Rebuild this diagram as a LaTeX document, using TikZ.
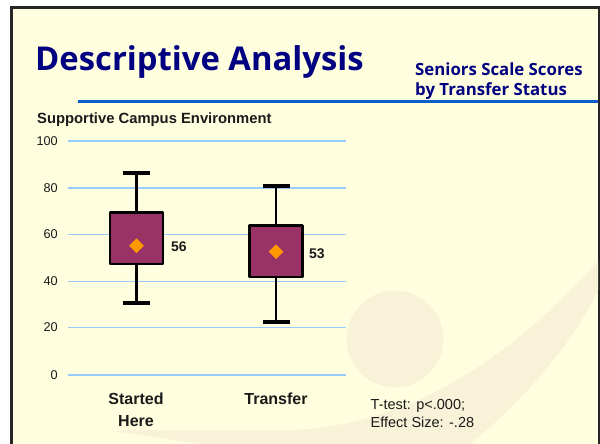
\documentclass[tikz,border=0pt]{standalone}
\usepackage{fontspec}
\setmainfont{Liberation Sans}
\newfontfamily\titlefont{Open Sans}
\definecolor{slidebg}{HTML}{FFFFE0}
\definecolor{swoosh}{HTML}{F8F3D8}
\definecolor{navy}{HTML}{000080}
\definecolor{rulecol}{HTML}{0F5FCB}
\definecolor{gridcol}{HTML}{99CCFF}
\definecolor{boxcol}{HTML}{993366}
\definecolor{markcol}{HTML}{FF9900}
\definecolor{txtcol}{HTML}{1A1A1A}
\tikzset{
  axislabel/.style={anchor=east, font=\fontsize{12.7}{14}\selectfont, text=txtcol, inner sep=0pt},
  catlabel/.style={align=center, font=\bfseries\fontsize{16}{22}\selectfont, text=txtcol, inner sep=0pt},
  vallabel/.style={anchor=west, font=\bfseries\fontsize{14}{16}\selectfont, text=txtcol, inner sep=0pt},
  whisker/.style={line width=2.6pt, black},
  cap line/.style={line width=3.2pt, black},
  iqrbox/.style={draw=black, line width=2.5pt, fill=boxcol, line join=round},
  meanmark/.style={fill=markcol, draw=none},
}
\begin{document}
\begin{tikzpicture}[x=1pt, y=-1pt]
\useasboundingbox (0, 0) rectangle (600, 444);
\fill[white](0, 0) rectangle (600, 444);
\fill[black!85](10, 6.5) rectangle (600, 444);
\fill[slidebg](12.5, 9.5) rectangle (598, 444);
% background swoosh
\fill[swoosh](598, 262) .. controls (530, 335) and (430, 425) .. (290, 430) .. controls (220, 432) and (160, 428) .. (113, 431) -- (200, 444) -- (470, 444) .. controls (525, 400) and (575, 340) .. (598, 290) -- cycle;
\fill[swoosh](395, 339) circle (48.5);
% heading
\node (heading) [anchor=west, inner sep=0pt, text=navy, font=\titlefont\bfseries\fontsize{32.8}{34}\selectfont] at (35, 62){Descriptive Analysis};
\node (subheading) [anchor=north west, inner sep=0pt, align=left, text=navy, font=\titlefont\bfseries\fontsize{16.8}{19.5}\selectfont] at (415, 63){Seniors Scale Scores\\by Transfer Status};
\coordinate (ruleleft) at (78, 101.5);
\coordinate (ruleright) at (598, 101.5);
\draw[rulecol, line width=3pt](ruleleft) -- (ruleright);
\node (charttitle) [anchor=west, inner sep=0pt, text=txtcol, font=\bfseries\fontsize{14.8}{16}\selectfont] at (37, 119.5){Supportive Campus Environment};
% gridlines and axis labels
\foreach \val/\ypos in {100/141, 80/188, 60/234.5, 40/281.5, 20/327.5, 0/375}{
  \coordinate (gridl\val) at (68, \ypos);
  \coordinate (gridr\val) at (346, \ypos);
  \draw[gridcol, line width=1.8pt](gridl\val) -- (gridr\val);
  \node (lab\val) [axislabel] at (58, \ypos){\val};
}
% boxes: x, whisker top, box top, box bottom, whisker bottom, mean, label
\foreach \nm/\xc/\wt/\bt/\bb/\wb/\mn/\lab/\laxis/\laby in {started/136.5/173/212.3/264/303/245.7/56/171/247, transfer/276/186/225.5/277/322/251.7/53/309/254}{
  \coordinate (top\nm) at (\xc, \wt);
  \coordinate (bot\nm) at (\xc, \wb);
  \draw[whisker](top\nm) -- (bot\nm);
  \draw[cap line]([xshift=-13.5pt]top\nm) -- ([xshift=13.5pt]top\nm);
  \draw[cap line]([xshift=-13.5pt]bot\nm) -- ([xshift=13.5pt]bot\nm);
  \draw[iqrbox](\xc-26.5, \bt) rectangle (\xc+26.5, \bb);
  \fill[meanmark](\xc-7.3, \mn) -- (\xc, \mn-7.3) -- (\xc+7.3, \mn) -- (\xc, \mn+7.3) -- cycle;
  \node (val\nm) [vallabel] at (\laxis, \laby){\lab};
}
% category labels
\node (catstarted) [catlabel, anchor=north] at (136, 392.5){Started\\Here};
\node (cattransfer) [catlabel, anchor=north] at (276, 392.5){Transfer};
\node (stats) [anchor=north west, inner sep=0pt, align=left, text=txtcol, font=\fontsize{14.5}{17.5}\selectfont] at (370.5, 399.5){T-test: p<.000;\\Effect Size: -.28};
\end{tikzpicture}
\end{document}
